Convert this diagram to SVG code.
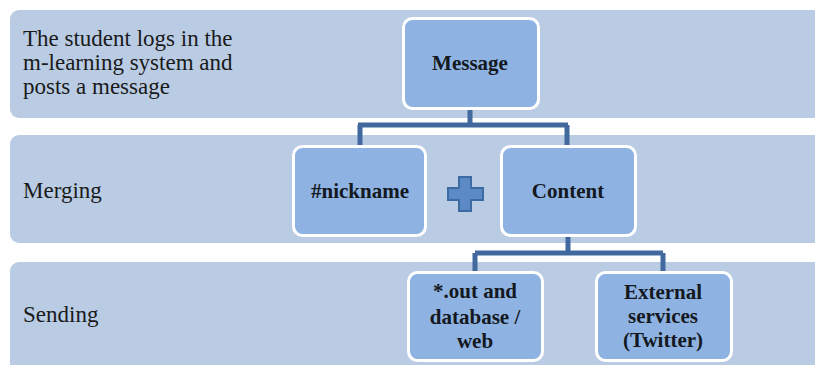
<svg xmlns="http://www.w3.org/2000/svg" width="815" height="365" viewBox="0 0 815 365">
<style>
.band{fill:#B9CCE4}
.node{fill:#8EB3E2;stroke:#FFFFFF;stroke-width:3}
.lbl{font-family:"Liberation Serif","Times New Roman",serif;font-size:23px;fill:#1A1A1A}
.nt{font-family:"Liberation Serif","Times New Roman",serif;font-size:21px;font-weight:bold;fill:#141821;text-anchor:middle}
.conn{fill:none;stroke:#41699E;stroke-width:5}
</style>
<rect width="815" height="365" fill="#FFFFFF"/>
<g id="band-post">
<rect class="band" x="10" y="10" width="820" height="108" rx="9"/>
<text class="lbl" x="23" y="46">The student logs in the</text>
<text class="lbl" x="23" y="70">m-learning system and</text>
<text class="lbl" x="23" y="94">posts a message</text>
</g>
<g id="band-merging">
<rect class="band" x="10" y="135" width="820" height="108" rx="9"/>
<text class="lbl" x="23" y="198">Merging</text>
</g>
<g id="band-sending">
<rect class="band" x="10" y="262" width="820" height="120" rx="9"/>
<text class="lbl" x="23" y="322">Sending</text>
</g>
<g id="connectors">
<path class="conn" d="M470,110 V125 M358,125 H568 M360,125 V146 M567,125 V146"/>
<path class="conn" d="M568,237 V253 M475,253 H663 M475,253 V272 M663,253 V272"/>
</g>
<g id="node-message">
<rect class="node" x="403.5" y="18.5" width="135" height="90" rx="9"/>
<text class="nt" x="470" y="70">Message</text>
</g>
<g id="node-nickname">
<rect class="node" x="293.5" y="146.5" width="132" height="89" rx="9"/>
<text class="nt" x="360" y="198">#nickname</text>
</g>
<g id="plus">
<path d="M459,177 H471 V188 H483 V200 H471 V211 H459 V200 H448 V188 H459 Z" fill="#5B8AC6" stroke="#3D6AA1" stroke-width="2"/>
</g>
<g id="node-content">
<rect class="node" x="501.5" y="146.5" width="134" height="89" rx="9"/>
<text class="nt" x="568" y="198">Content</text>
</g>
<g id="node-out">
<rect class="node" x="408.5" y="272.5" width="134" height="88" rx="9"/>
<text class="nt" x="475" y="298">*.out and</text>
<text class="nt" x="475" y="324">database /</text>
<text class="nt" x="475" y="348">web</text>
</g>
<g id="node-external">
<rect class="node" x="596.5" y="272.5" width="135" height="88" rx="9"/>
<text class="nt" x="663" y="299">External</text>
<text class="nt" x="663" y="323">services</text>
<text class="nt" x="663" y="347">(Twitter)</text>
</g>
</svg>
